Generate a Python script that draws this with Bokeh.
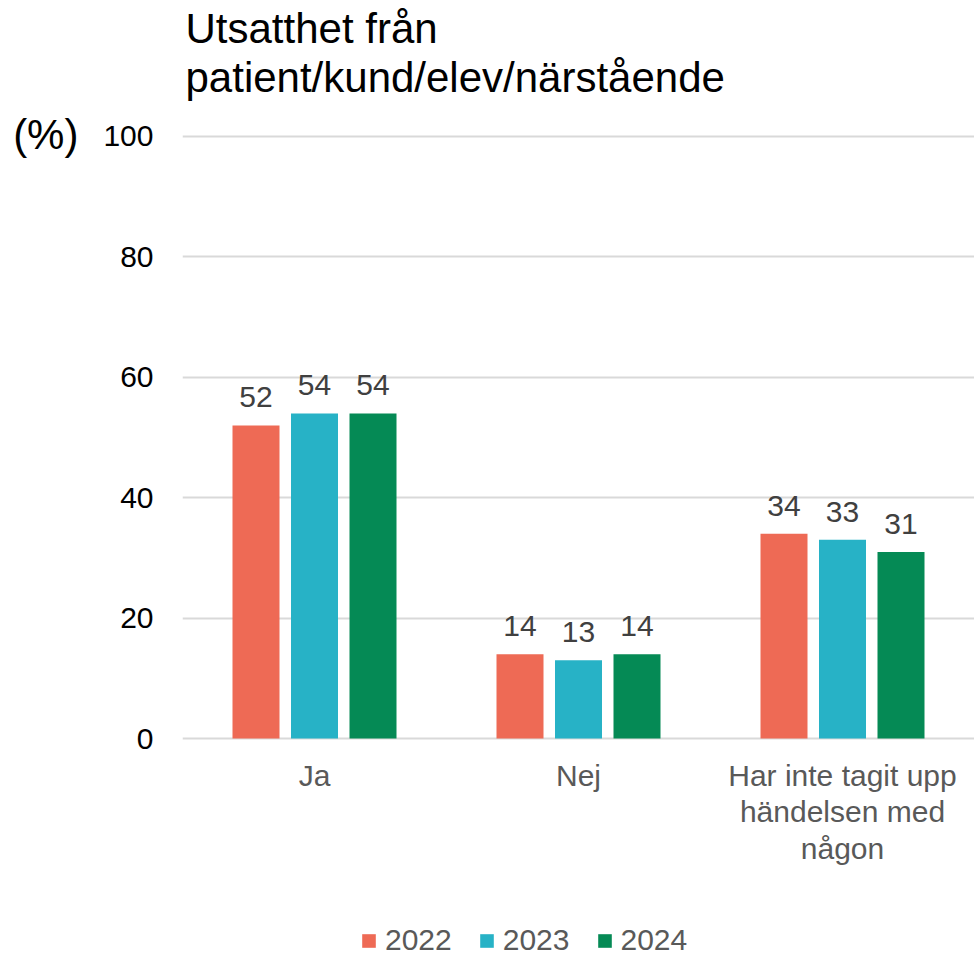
from bokeh.plotting import figure
from bokeh.models import (ColumnDataSource, FactorRange, Range1d, FixedTicker, Label)
from bokeh.layouts import column
from bokeh.transform import dodge
from bokeh.core.properties import value
from bokeh.embed import file_html
from bokeh.resources import INLINE

# ---- data ----
categories = ["Ja", "Nej", "Har inte tagit upp\nhändelsen med\nnågon"]
years = ["2022", "2023", "2024"]
v2022 = [52, 14, 34]
v2023 = [54, 13, 33]
v2024 = [54, 14, 31]
y_ticks = [0, 20, 40, 60, 80, 100]
title_lines = ["Utsatthet från", "patient/kund/elev/närstående"]
y_unit = "(%)"

colors = ["#EE6A55", "#27B2C6", "#058A55"]
FONT = "Liberation Sans"

W = 974
TITLE_H = 105
LEG_H = 50
H = 957 - LEG_H - TITLE_H
FL, FR = 182, 0
FT = 134 - TITLE_H
FB = (957 - LEG_H) - 740
Y0, Y1 = -0.33, 100.33
frame_w = W - FL - FR
frame_h = H - FT - FB
px_y = frame_h / (Y1 - Y0)           # pixels per data unit (y)
px_x = frame_w / 3.0                 # pixels per category

# ---- title strip (frame aligned with the main plot by the column) ----
pt = figure(width=W, height=TITLE_H, x_range=Range1d(0, frame_w),
            y_range=Range1d(0, TITLE_H), output_backend="svg",
            toolbar_location=None, x_axis_location=None, y_axis_location=None,
            min_border=0)
pt.outline_line_color = None
pt.grid.visible = False
for txt, mid in zip(title_lines, [27.5, 76.5]):
    pt.add_layout(Label(x=3, y=TITLE_H - mid, text=txt, text_font=FONT,
                        text_font_size="42px", text_color="black",
                        text_baseline="middle", text_align="left"))

# ---- main plot ----
p = figure(width=W, height=H, x_range=FactorRange(*categories, range_padding=0),
           y_range=Range1d(Y0, Y1), output_backend="svg", toolbar_location=None,
           min_border_left=FL, min_border_right=FR, min_border_top=FT,
           min_border_bottom=FB)
p.outline_line_color = None
p.background_fill_color = "white"
p.border_fill_color = "white"

src = ColumnDataSource(dict(cat=categories, y2022=v2022, y2023=v2023, y2024=v2024,
                            l2022=[v + 28 / px_y for v in v2022],
                            l2023=[v + 28 / px_y for v in v2023],
                            l2024=[v + 28 / px_y for v in v2024],
                            t2022=[str(v) for v in v2022],
                            t2023=[str(v) for v in v2023],
                            t2024=[str(v) for v in v2024]))

offset = 58.5 / px_x
bw = 47 / px_x
for i, yr in enumerate(years):
    off = (i - 1) * offset
    p.vbar(x=dodge("cat", off, range=p.x_range), top="y" + yr, width=bw,
           source=src, color=colors[i], line_color=None)
    p.text(x=dodge("cat", off, range=p.x_range), y="l" + yr, text="t" + yr,
           source=src, text_align="center", text_baseline="middle",
           text_font=value(FONT), text_font_size="30px", text_color="#404040")

# axes
p.yaxis.ticker = FixedTicker(ticks=y_ticks)
p.yaxis.axis_line_color = None
p.yaxis.major_tick_line_color = None
p.yaxis.minor_tick_line_color = None
p.yaxis.major_tick_out = 0
p.yaxis.major_label_standoff = 29
p.yaxis.major_label_text_font = FONT
p.yaxis.major_label_text_font_size = "30px"
p.yaxis.major_label_text_color = "black"
p.yaxis.axis_label = y_unit
p.yaxis.axis_label_orientation = "horizontal"
p.yaxis.axis_label_align = "end"
p.yaxis.axis_label_standoff = 22
p.yaxis.axis_label_text_font = FONT
p.yaxis.axis_label_text_font_size = "42px"
p.yaxis.axis_label_text_font_style = "normal"
p.yaxis.axis_label_text_color = "black"

p.xaxis.axis_line_color = None
p.xaxis.major_tick_line_color = None
p.xaxis.major_tick_out = 0
p.xaxis.major_label_standoff = 18
p.xaxis.major_label_text_font = FONT
p.xaxis.major_label_text_font_size = "30px"
p.xaxis.major_label_text_line_height = 1.12
p.xaxis.major_label_text_color = "#595959"

p.xgrid.grid_line_color = None
p.ygrid.grid_line_color = "#D9D9D9"
p.ygrid.grid_line_width = 2

# ---- legend strip below ----
pl = figure(width=W, height=LEG_H, x_range=Range1d(0, 1), y_range=Range1d(0, 1),
            output_backend="svg", toolbar_location=None,
            x_axis_location=None, y_axis_location=None, min_border=0)
pl.outline_line_color = None
pl.grid.visible = False
leg_src = ColumnDataSource(dict(x=list(range(len(categories))), y2022=v2022,
                                y2023=v2023, y2024=v2024))
for i, yr in enumerate(years):
    pl.vbar(x="x", top="y" + yr, width=0.1, source=leg_src, color=colors[i],
            line_color=None, legend_label=yr, visible=False)
lg = pl.legend[0]
lg.orientation = "horizontal"
lg.location = (178, 0)
lg.padding = 0
lg.margin = 0
lg.spacing = 26
lg.glyph_width = 17
lg.glyph_height = 17
lg.label_standoff = 8
lg.label_text_font = FONT
lg.label_text_font_size = "30px"
lg.label_text_color = "#595959"
lg.border_line_color = None
lg.background_fill_alpha = 0

layout = column(pt, p, pl, spacing=0)
open("out.html", "w").write(file_html(layout, INLINE))
